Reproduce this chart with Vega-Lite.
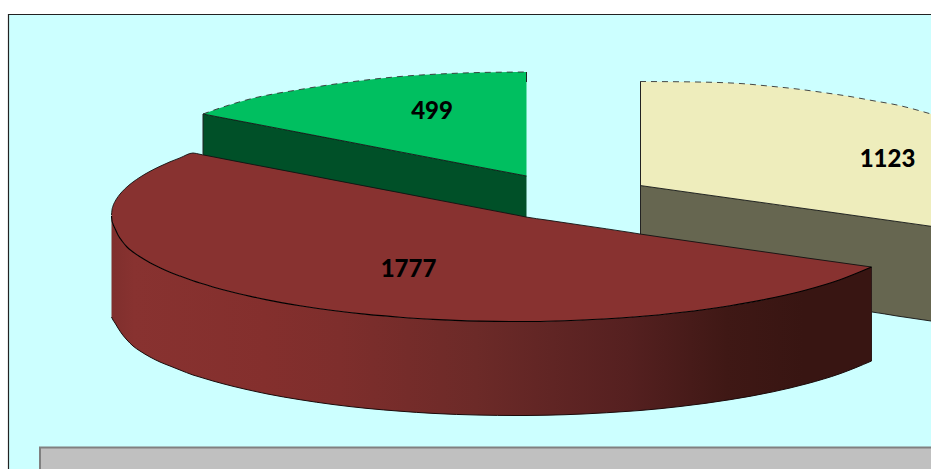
{"$schema":"https://vega.github.io/schema/vega-lite/v6.json","width":931,"height":469,"padding":0,"autosize":{"type":"fit","contains":"padding"},"background":"#FFFFFF","view":{"stroke":null},
"datasets":{
"frame":[{"x":8.5,"x2":950,"y":14.5,"y2":490}],
"legendBox":[{"x":40,"x2":950,"y":447.5,"y2":490}],
"slices":[{"category":"A","value":499,"lx":432,"ly":112},{"category":"B","value":1777,"lx":408.5,"ly":270},{"category":"C","value":1123,"lx":887.5,"ly":159.5}],
"edges":[{"x":640.5,"y":82,"y2":234},{"x":203,"y":114,"y2":154},{"x":871.5,"y":267,"y2":361},{"x":526.5,"y":72,"y2":82}],
"green":[{"x":203,"arc":114,"face":114,"base":158},{"x":220,"arc":108,"face":117.3,"base":161},{"x":250,"arc":99,"face":123,"base":167},{"x":300,"arc":89.5,"face":132.6,"base":177},{"x":350,"arc":82,"face":142.2,"base":186},{"x":400,"arc":76.5,"face":151.9,"base":196},{"x":450,"arc":73.5,"face":161.5,"base":205},{"x":480,"arc":72.5,"face":167.2,"base":211},{"x":526.5,"arc":72,"face":176,"base":221}],
"cream":[{"x":640,"arc":81.5,"face":185.5,"base":279},{"x":697,"arc":82,"face":193.5,"base":288},{"x":747,"arc":84,"face":200.5,"base":296},{"x":763,"arc":85.5,"face":202.7,"base":298},{"x":797,"arc":89,"face":207.5,"base":303},{"x":830,"arc":93.5,"face":212.1,"base":308},{"x":847,"arc":96,"face":214.5,"base":310},{"x":872,"arc":100.5,"face":218,"base":312},{"x":897,"arc":105,"face":221.5,"base":316},{"x":931,"arc":114,"face":226.3,"base":321}],
"brown":[{"x":111.5,"upper":215,"arc":216,"base":317},{"x":112,"upper":210,"arc":221,"base":318},{"x":113,"upper":206,"arc":224,"base":320},{"x":115,"upper":201.5,"arc":228.5,"base":323},{"x":118,"upper":196.7,"arc":235,"base":328},{"x":122,"upper":191.8,"arc":241,"base":334},{"x":127,"upper":186.9,"arc":247,"base":340},{"x":133,"upper":182,"arc":252,"base":346},{"x":140,"upper":177.2,"arc":256.8,"base":351},{"x":150,"upper":171.3,"arc":262.7,"base":357},{"x":160,"upper":166.3,"arc":267.7,"base":362},{"x":170,"upper":161.8,"arc":272.2,"base":366},{"x":180,"upper":157.9,"arc":276.1,"base":370},{"x":193,"upper":153,"arc":280.8,"base":375},{"x":200,"upper":154.3,"arc":283.1,"base":377.1},{"x":213,"upper":156.8,"arc":287,"base":381},{"x":233,"upper":160.7,"arc":292.3,"base":386.3},{"x":257,"upper":165.3,"arc":297.8,"base":391.8},{"x":267,"upper":167.2,"arc":299.9,"base":393.9},{"x":300,"upper":173.5,"arc":305.7,"base":399.7},{"x":333,"upper":179.9,"arc":310.5,"base":404.5},{"x":367,"upper":186.4,"arc":314.4,"base":408.4},{"x":400,"upper":192.7,"arc":317.2,"base":411.2},{"x":433,"upper":199.1,"arc":319.4,"base":413.4},{"x":480,"upper":208.1,"arc":321.1,"base":415.1},{"x":515,"upper":214.8,"arc":321.5,"base":415.5},{"x":526,"upper":217,"arc":321.5,"base":415.5},{"x":547,"upper":220.1,"arc":321.2,"base":415.2},{"x":583,"upper":225.4,"arc":320,"base":414},{"x":630,"upper":232.4,"arc":317.2,"base":411.2},{"x":640,"upper":234,"arc":316.5,"base":410.5},{"x":680,"upper":239.8,"arc":312.5,"base":406.5},{"x":730,"upper":247,"arc":305.7,"base":399.7},{"x":773,"upper":253.1,"arc":297.8,"base":391.8},{"x":807,"upper":258,"arc":289.7,"base":383.7},{"x":840,"upper":262.6,"arc":279.7,"base":373.7},{"x":871.5,"upper":267,"arc":267,"base":361}]
},
"layer":[
{"data":{"name":"frame"},"mark":{"type":"rect","fill":"#CCFFFF","stroke":"#222222","strokeWidth":1.2,"clip":true},"encoding":{"x":{"field":"x","type":"quantitative","scale":{"domain":[0,931],"nice":false,"zero":false},"axis":null},"x2":{"field":"x2"},"y":{"field":"y","type":"quantitative","scale":{"domain":[0,469],"reverse":true,"nice":false,"zero":false},"axis":null},"y2":{"field":"y2"}}},
{"data":{"name":"cream"},"mark":{"type":"area","interpolate":"monotone","fill":"#666650","clip":true},"encoding":{"x":{"field":"x","type":"quantitative","axis":null},"y":{"field":"face","type":"quantitative","axis":null},"y2":{"field":"base"}}},
{"data":{"name":"cream"},"mark":{"type":"line","interpolate":"monotone","stroke":"#111111","strokeWidth":0.9,"clip":true},"encoding":{"x":{"field":"x","type":"quantitative","axis":null},"y":{"field":"base","type":"quantitative","axis":null}}},
{"data":{"name":"cream"},"mark":{"type":"area","interpolate":"monotone","fill":"#EEEDBC","clip":true},"encoding":{"x":{"field":"x","type":"quantitative","axis":null},"y":{"field":"arc","type":"quantitative","axis":null},"y2":{"field":"face"}}},
{"data":{"name":"cream"},"mark":{"type":"line","interpolate":"monotone","stroke":"#333333","strokeWidth":0.9,"strokeDash":[6,5],"clip":true},"encoding":{"x":{"field":"x","type":"quantitative","axis":null},"y":{"field":"arc","type":"quantitative","axis":null}}},
{"data":{"name":"cream"},"mark":{"type":"line","interpolate":"monotone","stroke":"#111111","strokeWidth":0.9,"clip":true},"encoding":{"x":{"field":"x","type":"quantitative","axis":null},"y":{"field":"face","type":"quantitative","axis":null}}},
{"data":{"name":"green"},"mark":{"type":"area","interpolate":"monotone","fill":"#005028"},"encoding":{"x":{"field":"x","type":"quantitative","axis":null},"y":{"field":"face","type":"quantitative","axis":null},"y2":{"field":"base"}}},
{"data":{"name":"green"},"mark":{"type":"area","interpolate":"monotone","fill":"#00BF60"},"encoding":{"x":{"field":"x","type":"quantitative","axis":null},"y":{"field":"arc","type":"quantitative","axis":null},"y2":{"field":"face"}}},
{"data":{"name":"green"},"mark":{"type":"line","interpolate":"monotone","stroke":"#333333","strokeWidth":0.9,"strokeDash":[6,5]},"encoding":{"x":{"field":"x","type":"quantitative","axis":null},"y":{"field":"arc","type":"quantitative","axis":null}}},
{"data":{"name":"green"},"mark":{"type":"line","interpolate":"monotone","stroke":"#111111","strokeWidth":0.9},"encoding":{"x":{"field":"x","type":"quantitative","axis":null},"y":{"field":"face","type":"quantitative","axis":null}}},
{"data":{"name":"edges"},"mark":{"type":"rule","stroke":"#222222","strokeWidth":1},"encoding":{"x":{"field":"x","type":"quantitative","axis":null},"y":{"field":"y","type":"quantitative","axis":null},"y2":{"field":"y2"}}},
{"data":{"name":"brown"},"mark":{"type":"area","interpolate":"monotone","fill":{"gradient":"linear","x1":0,"y1":0,"x2":1,"y2":0,"stops":[{"offset":0,"color":"#7F2F2D"},{"offset":0.03,"color":"#883230"},{"offset":0.2,"color":"#842F2D"},{"offset":0.3,"color":"#7E2E2C"},{"offset":0.48,"color":"#6C2A28"},{"offset":0.68,"color":"#552020"},{"offset":0.81,"color":"#3F1815"},{"offset":0.91,"color":"#381512"},{"offset":1,"color":"#381512"}]}},"encoding":{"x":{"field":"x","type":"quantitative","axis":null},"y":{"field":"arc","type":"quantitative","axis":null},"y2":{"field":"base"}}},
{"data":{"name":"brown"},"mark":{"type":"line","interpolate":"monotone","stroke":"#1A0A0A","strokeWidth":1},"encoding":{"x":{"field":"x","type":"quantitative","axis":null},"y":{"field":"base","type":"quantitative","axis":null}}},
{"data":{"name":"brown"},"mark":{"type":"area","interpolate":"monotone","fill":"#883230"},"encoding":{"x":{"field":"x","type":"quantitative","axis":null},"y":{"field":"upper","type":"quantitative","axis":null},"y2":{"field":"arc"}}},
{"data":{"name":"brown"},"mark":{"type":"line","interpolate":"monotone","stroke":"#111111","strokeWidth":0.9},"encoding":{"x":{"field":"x","type":"quantitative","axis":null},"y":{"field":"upper","type":"quantitative","axis":null}}},
{"data":{"name":"brown"},"mark":{"type":"line","interpolate":"monotone","stroke":"#000000","strokeWidth":1.1},"encoding":{"x":{"field":"x","type":"quantitative","axis":null},"y":{"field":"arc","type":"quantitative","axis":null}}},
{"data":{"name":"slices"},"mark":{"type":"text","font":"Lato","fontWeight":900,"fontSize":24,"color":"#000000","align":"center","baseline":"middle"},"encoding":{"x":{"field":"lx","type":"quantitative","axis":null},"y":{"field":"ly","type":"quantitative","axis":null},"text":{"field":"value","type":"quantitative"}}},
{"data":{"name":"legendBox"},"mark":{"type":"rect","fill":"#C0C0C0","stroke":"#808080","strokeWidth":2,"clip":true},"encoding":{"x":{"field":"x","type":"quantitative","axis":null},"x2":{"field":"x2"},"y":{"field":"y","type":"quantitative","axis":null},"y2":{"field":"y2"}}}
]}
